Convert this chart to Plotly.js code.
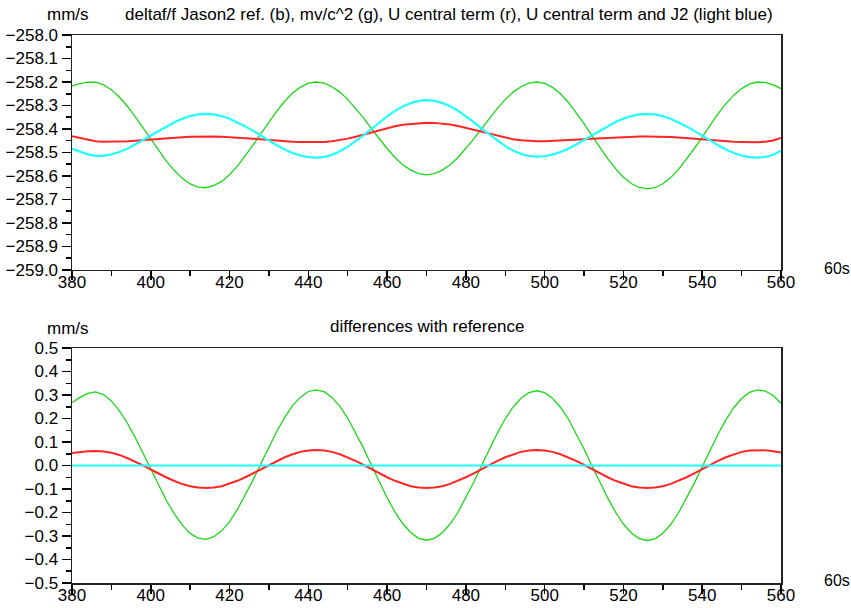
<!DOCTYPE html>
<html>
<head>
<meta charset="utf-8">
<script src="https://cdn.plot.ly/plotly-3.0.1.min.js"></script>
<style>html,body{margin:0;padding:0;background:#fff;}#chart{width:851px;height:608px;}</style>
</head>
<body>
<div id="chart"></div>
<script>
// time axis (units of 60 s)
const timeX = [380,382,384,386,388,390,392,394,396,398,400,402,404,406,408,410,412,414,416,418,420,422,424,426,428,430,432,434,436,438,440,442,444,446,448,450,452,454,456,458,460,462,464,466,468,470,472,474,476,478,480,482,484,486,488,490,492,494,496,498,500,502,504,506,508,510,512,514,516,518,520,522,524,526,528,530,532,534,536,538,540,542,544,546,548,550,552,554,556,558,560];

// top panel (mm/s)
const refTop = [-258.484,-258.497,-258.508,-258.514,-258.514,-258.508,-258.498,-258.484,-258.467,-258.448,-258.428,-258.408,-258.388,-258.371,-258.356,-258.345,-258.338,-258.336,-258.338,-258.345,-258.356,-258.371,-258.389,-258.408,-258.429,-258.450,-258.469,-258.487,-258.502,-258.513,-258.520,-258.522,-258.519,-258.510,-258.495,-258.476,-258.453,-258.427,-258.400,-258.372,-258.346,-258.323,-258.304,-258.290,-258.280,-258.277,-258.280,-258.289,-258.303,-258.322,-258.345,-258.371,-258.398,-258.424,-258.450,-258.473,-258.492,-258.506,-258.515,-258.518,-258.516,-258.509,-258.498,-258.484,-258.466,-258.447,-258.427,-258.407,-258.388,-258.370,-258.356,-258.345,-258.338,-258.336,-258.338,-258.345,-258.356,-258.371,-258.389,-258.408,-258.429,-258.450,-258.469,-258.487,-258.502,-258.513,-258.520,-258.522,-258.519,-258.510,-258.493];
const mvc2Top = [-258.217,-258.207,-258.201,-258.201,-258.212,-258.233,-258.264,-258.302,-258.346,-258.394,-258.444,-258.492,-258.538,-258.577,-258.610,-258.634,-258.647,-258.650,-258.641,-258.623,-258.595,-258.558,-258.515,-258.468,-258.419,-258.370,-258.324,-258.282,-258.247,-258.222,-258.205,-258.200,-258.205,-258.220,-258.243,-258.274,-258.312,-258.353,-258.398,-258.442,-258.483,-258.521,-258.552,-258.575,-258.590,-258.595,-258.590,-258.575,-258.552,-258.521,-258.483,-258.442,-258.398,-258.353,-258.312,-258.274,-258.243,-258.220,-258.205,-258.200,-258.206,-258.223,-258.250,-258.286,-258.329,-258.377,-258.428,-258.478,-258.526,-258.569,-258.605,-258.632,-258.649,-258.655,-258.650,-258.633,-258.607,-258.572,-258.530,-258.483,-258.434,-258.384,-258.336,-258.293,-258.256,-258.228,-258.209,-258.200,-258.202,-258.212,-258.228];
const uCentralTop = [-258.431,-258.439,-258.447,-258.452,-258.454,-258.454,-258.453,-258.452,-258.450,-258.447,-258.445,-258.443,-258.439,-258.437,-258.435,-258.433,-258.432,-258.432,-258.432,-258.433,-258.434,-258.436,-258.439,-258.441,-258.444,-258.447,-258.449,-258.452,-258.454,-258.455,-258.456,-258.456,-258.455,-258.452,-258.447,-258.441,-258.433,-258.424,-258.415,-258.405,-258.396,-258.388,-258.382,-258.378,-258.374,-258.373,-258.374,-258.377,-258.381,-258.387,-258.395,-258.404,-258.413,-258.421,-258.430,-258.438,-258.444,-258.448,-258.451,-258.452,-258.452,-258.451,-258.450,-258.449,-258.446,-258.444,-258.442,-258.440,-258.438,-258.435,-258.434,-258.433,-258.432,-258.432,-258.432,-258.433,-258.434,-258.436,-258.439,-258.441,-258.444,-258.447,-258.449,-258.452,-258.454,-258.455,-258.456,-258.456,-258.454,-258.449,-258.438];
const uJ2Top = [-258.484,-258.497,-258.508,-258.514,-258.514,-258.508,-258.498,-258.484,-258.467,-258.448,-258.428,-258.408,-258.388,-258.371,-258.356,-258.345,-258.338,-258.336,-258.338,-258.345,-258.356,-258.371,-258.389,-258.408,-258.429,-258.450,-258.469,-258.487,-258.502,-258.513,-258.520,-258.522,-258.519,-258.510,-258.495,-258.476,-258.453,-258.427,-258.400,-258.372,-258.346,-258.323,-258.304,-258.290,-258.280,-258.277,-258.280,-258.289,-258.303,-258.322,-258.345,-258.371,-258.398,-258.424,-258.450,-258.473,-258.492,-258.506,-258.515,-258.518,-258.516,-258.509,-258.498,-258.484,-258.466,-258.447,-258.427,-258.407,-258.388,-258.370,-258.356,-258.345,-258.338,-258.336,-258.338,-258.345,-258.356,-258.371,-258.389,-258.408,-258.429,-258.450,-258.469,-258.487,-258.502,-258.513,-258.520,-258.522,-258.519,-258.510,-258.493];

// bottom panel: differences with reference (mm/s)
const mvc2Diff = [0.267,0.290,0.307,0.313,0.302,0.275,0.234,0.182,0.121,0.054,-0.016,-0.084,-0.150,-0.206,-0.254,-0.289,-0.309,-0.314,-0.303,-0.278,-0.239,-0.187,-0.126,-0.060,0.010,0.080,0.145,0.205,0.255,0.291,0.315,0.322,0.314,0.290,0.252,0.202,0.141,0.074,0.002,-0.070,-0.137,-0.198,-0.248,-0.285,-0.310,-0.318,-0.310,-0.286,-0.249,-0.199,-0.138,-0.071,0.000,0.071,0.138,0.199,0.249,0.286,0.310,0.318,0.310,0.286,0.248,0.198,0.137,0.070,-0.001,-0.071,-0.138,-0.199,-0.249,-0.287,-0.311,-0.319,-0.312,-0.288,-0.251,-0.201,-0.141,-0.075,-0.005,0.066,0.133,0.194,0.246,0.285,0.311,0.322,0.317,0.298,0.265];
const uCentralDiff = [0.053,0.058,0.061,0.062,0.060,0.054,0.045,0.032,0.017,0.001,-0.017,-0.035,-0.051,-0.066,-0.079,-0.088,-0.094,-0.096,-0.094,-0.088,-0.078,-0.065,-0.050,-0.033,-0.015,0.003,0.020,0.035,0.048,0.058,0.064,0.066,0.064,0.058,0.048,0.035,0.020,0.003,-0.015,-0.033,-0.050,-0.065,-0.078,-0.088,-0.094,-0.096,-0.094,-0.088,-0.078,-0.065,-0.050,-0.033,-0.015,0.003,0.020,0.035,0.048,0.058,0.064,0.066,0.064,0.058,0.048,0.035,0.020,0.003,-0.015,-0.033,-0.050,-0.065,-0.078,-0.088,-0.094,-0.096,-0.094,-0.088,-0.078,-0.065,-0.050,-0.033,-0.015,0.003,0.020,0.035,0.048,0.058,0.064,0.066,0.065,0.061,0.055];
const uJ2Diff = timeX.map(() => 0);

// tick labels
const xTicks = [380,400,420,440,460,480,500,520,540,560];
const yTopTicks = [-259.0,-258.9,-258.8,-258.7,-258.6,-258.5,-258.4,-258.3,-258.2,-258.1,-258.0];
const yTopLabels = ['\u2212259.0','\u2212258.9','\u2212258.8','\u2212258.7','\u2212258.6','\u2212258.5','\u2212258.4','\u2212258.3','\u2212258.2','\u2212258.1','\u2212258.0'];
const yBotTicks = [-0.5,-0.4,-0.3,-0.2,-0.1,0.0,0.1,0.2,0.3,0.4,0.5];
const yBotLabels = ['\u22120.5','\u22120.4','\u22120.3','\u22120.2','\u22120.1','0.0','0.1','0.2','0.3','0.4','0.5'];

const cBlue = '#0000ff', cGreen = '#18d818', cRed = '#ff2626', cCyan = '#22ffff';

const traces = [
  {x: timeX, y: refTop, xaxis:'x', yaxis:'y', mode:'lines', line:{color:cBlue, width:1}},
  {x: timeX, y: mvc2Top, xaxis:'x', yaxis:'y', mode:'lines', line:{color:cGreen, width:1.3}},
  {x: timeX, y: uCentralTop, xaxis:'x', yaxis:'y', mode:'lines', line:{color:cRed, width:2}},
  {x: timeX, y: uJ2Top, xaxis:'x', yaxis:'y', mode:'lines', line:{color:cCyan, width:2.2}},
  {x: timeX, y: mvc2Diff, xaxis:'x2', yaxis:'y2', mode:'lines', line:{color:cGreen, width:1.3}},
  {x: timeX, y: uCentralDiff, xaxis:'x2', yaxis:'y2', mode:'lines', line:{color:cRed, width:2}},
  {x: timeX, y: uJ2Diff, xaxis:'x2', yaxis:'y2', mode:'lines', line:{color:cCyan, width:2}}
];

const font = {family:'Liberation Sans, Arial, sans-serif', size:17, color:'#000'};
function xAxis(anchor){
  return {anchor:anchor, range:[380,560], tickvals:xTicks, ticktext:xTicks.map(String),
    ticks:'outside', ticklen:9, tickwidth:1.5, tickcolor:'#000',
    minor:{dtick:10, tick0:380, ticks:'outside', ticklen:5, tickwidth:1.5, tickcolor:'#000'},
    showline:true, linecolor:'#222', linewidth:1.5, mirror:true, showgrid:false, zeroline:false,
    tickfont:font, ticklabelstandoff:-13, fixedrange:true};
}
function yAxis(anchor, domain, range, vals, labels){
  return {anchor:anchor, domain:domain, range:range, tickvals:vals, ticktext:labels,
    ticks:'outside', ticklen:9, tickwidth:1.5, tickcolor:'#000',
    minor:{dtick:0.05, tick0:0, ticks:'outside', ticklen:5, tickwidth:1.5, tickcolor:'#000'},
    showline:true, linecolor:'#222', linewidth:1.5, mirror:true, showgrid:false, zeroline:false,
    tickfont:font, fixedrange:true};
}

const annFont = {family:'Liberation Sans, Arial, sans-serif', size:17, color:'#000'};
const unitFont = {family:'Liberation Sans, Arial, sans-serif', size:16, color:'#000'};
const layout = {
  width:851, height:608, showlegend:false,
  paper_bgcolor:'#fff', plot_bgcolor:'#fff',
  margin:{l:72, r:70, t:35, b:25},
  xaxis: xAxis('y'),
  yaxis: yAxis('x', [0.5712,1], [-259,-258], yTopTicks, yTopLabels),
  xaxis2: xAxis('y2'),
  yaxis2: yAxis('x2', [0,0.4288], [-0.5,0.5], yBotTicks, yBotLabels),
  annotations:[
    {text:'deltaf/f Jason2 ref. (b), mv/c^2 (g), U central term (r), U central term and J2 (light blue)', xref:'paper', yref:'paper', x:0.5317, y:1.0365, xanchor:'center', yanchor:'middle', showarrow:false, font:annFont},
    {text:'mm/s', xref:'paper', yref:'paper', x:-0.0056, y:1.0365, xanchor:'center', yanchor:'middle', showarrow:false, font:annFont},
    {text:'60s', xref:'paper', yref:'paper', x:1.0585, y:0.5748, xanchor:'left', yanchor:'middle', showarrow:false, font:unitFont},
    {text:'differences with reference', xref:'paper', yref:'paper', x:0.5007, y:0.4672, xanchor:'center', yanchor:'middle', showarrow:false, font:annFont},
    {text:'mm/s', xref:'paper', yref:'paper', x:-0.0056, y:0.4653, xanchor:'center', yanchor:'middle', showarrow:false, font:annFont},
    {text:'60s', xref:'paper', yref:'paper', x:1.0585, y:0.004, xanchor:'left', yanchor:'middle', showarrow:false, font:unitFont}
  ]
};

Plotly.newPlot('chart', traces, layout, {staticPlot:true, displayModeBar:false});
</script>
</body>
</html>
